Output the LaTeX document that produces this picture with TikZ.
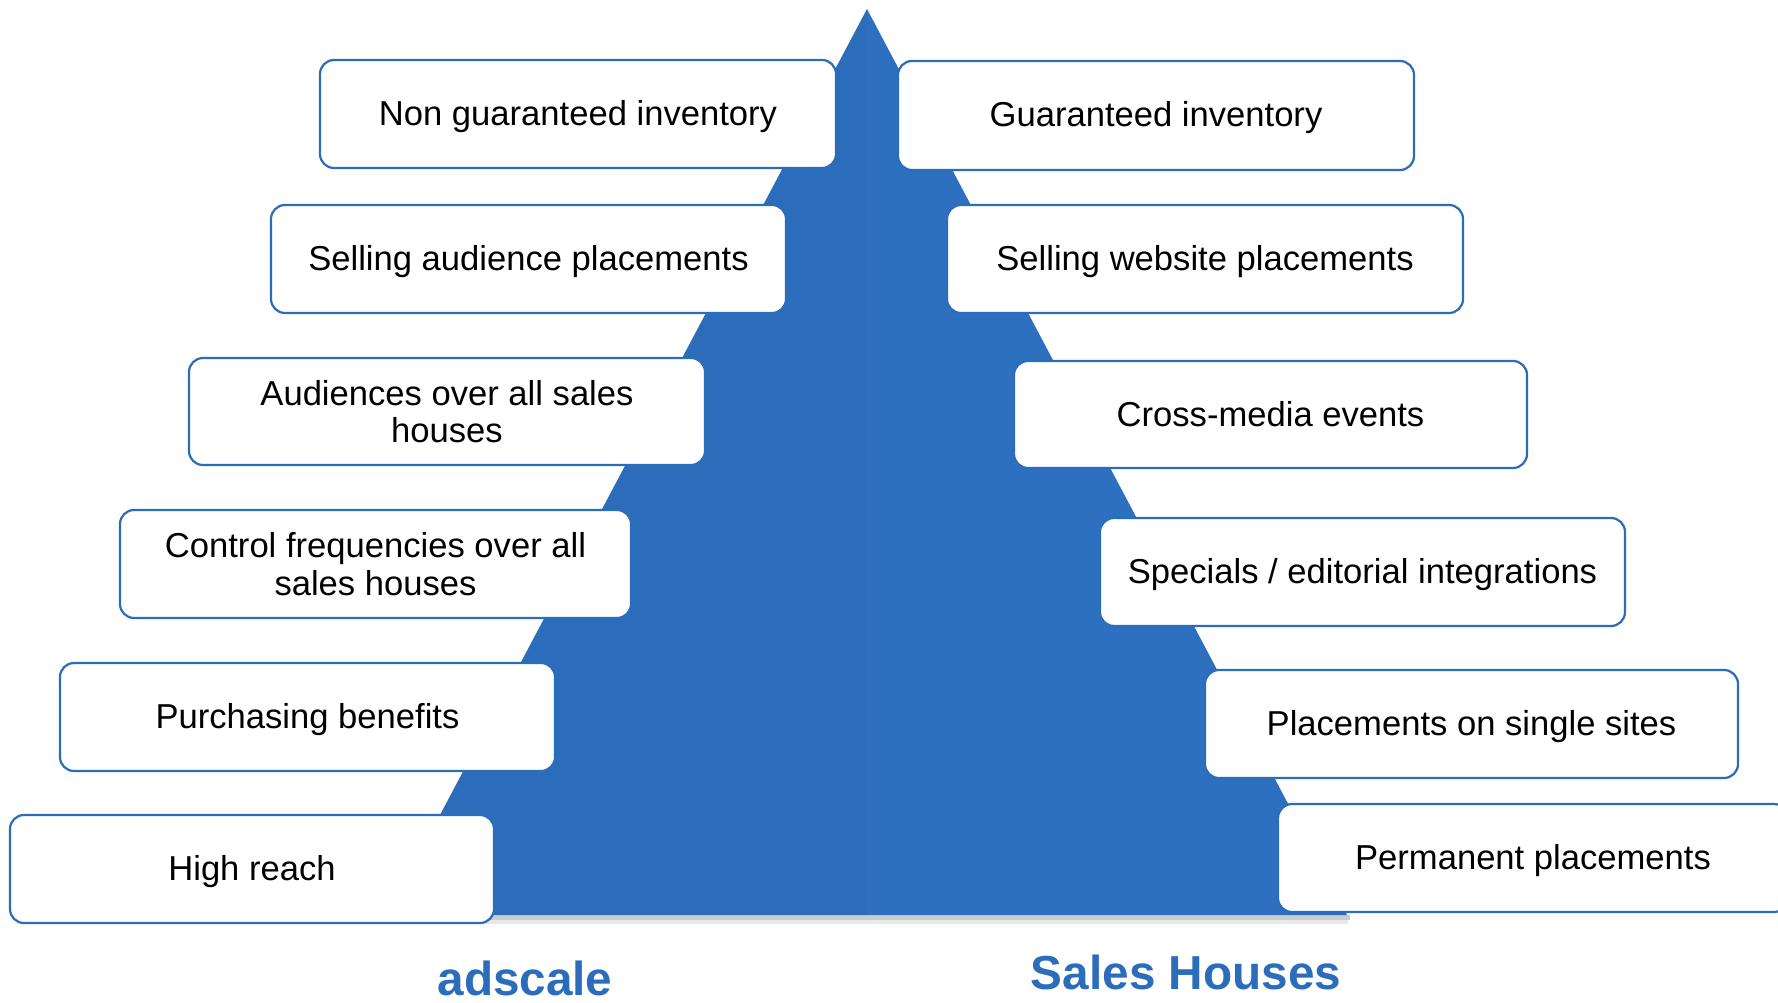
\documentclass[tikz,border=0pt]{standalone}
\usepackage{fontspec}
\setmainfont{Liberation Sans}
\begin{document}
\definecolor{pyrblue}{RGB}{43,108,187}
\definecolor{pyrblueR}{RGB}{46,112,192}
\begin{tikzpicture}[x=1pt,y=-1pt,
  item/.style={draw=pyrblue, line width=2.2pt, fill=white, rounded corners=14pt,
    rectangle, inner sep=0pt, align=center,
    font=\fontsize{34.6}{37.5}\selectfont},
  oneline/.style={text height=25.2pt, text depth=2.2pt},
  heading/.style={text=pyrblue, font=\fontsize{47.7}{50}\selectfont\bfseries, anchor=base}]
\useasboundingbox (0,0) rectangle (1778,1003);
\clip (0,0) rectangle (1778,1003);
% pyramid with a soft shadow under its base
\fill[gray!40] (390,915) rectangle (1350,920);
\fill[gray!18] (392,920) rectangle (1348,924);
\fill[pyrblue] (387,915) -- (867,9) -- (867,915) -- cycle;
\fill[pyrblueR] (867,915) -- (867,9) -- (1347,915) -- cycle;
% left column
\node[item, oneline, minimum width=516pt, minimum height=108pt] (l1) at (578,114) {Non guaranteed inventory};
\node[item, oneline, minimum width=515pt, minimum height=108pt] (l2) at (528.5,259) {Selling audience placements};
\node[item, minimum width=516pt, minimum height=107pt] (l3) at (447,411.5) {Audiences over all sales\\houses};
\node[item, minimum width=511pt, minimum height=108pt] (l4) at (375.5,564) {Control frequencies over all\\sales houses};
\node[item, oneline, minimum width=495pt, minimum height=108pt] (l5) at (307.5,717) {Purchasing benefits};
\node[item, oneline, minimum width=484pt, minimum height=108pt] (l6) at (252,869) {High reach};
% right column
\node[item, oneline, minimum width=516pt, minimum height=109pt] (r1) at (1156,115.5) {Guaranteed inventory};
\node[item, oneline, minimum width=516pt, minimum height=108pt] (r2) at (1205,259) {Selling website placements};
\node[item, oneline, minimum width=513pt, minimum height=107pt] (r3) at (1270.5,414.5) {Cross-media events};
\node[item, oneline, minimum width=525pt, minimum height=108pt] (r4) at (1362.5,572) {Specials / editorial integrations};
\node[item, oneline, minimum width=533pt, minimum height=108pt] (r5) at (1471.5,724) {Placements on single sites};
\node[item, oneline, minimum width=510pt, minimum height=108pt] (r6) at (1533,858) {Permanent placements};
% column headings
\node[heading] (hl) at (525,995) {adscale};
\node[heading] (hr) at (1186,989) {Sales Houses};
\end{tikzpicture}
\end{document}
